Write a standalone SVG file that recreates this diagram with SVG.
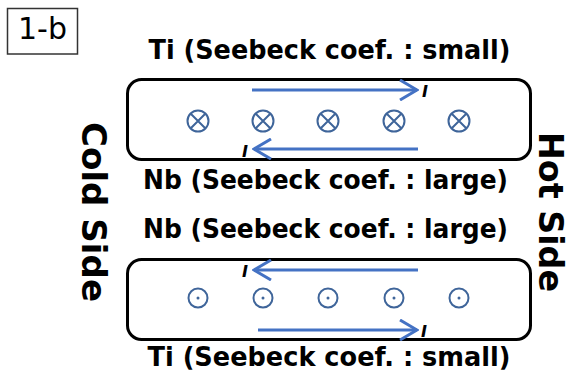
<svg xmlns="http://www.w3.org/2000/svg" width="569" height="373" viewBox="0 0 569 373">
<style>
.lbl{font-family:"DejaVu Sans","Liberation Sans",sans-serif;font-weight:bold;font-size:27px;fill:#000}
.side{font-family:"DejaVu Sans","Liberation Sans",sans-serif;font-weight:bold;font-size:34px;fill:#000}
.cur{font-family:"DejaVu Sans","Liberation Sans",sans-serif;font-weight:bold;font-style:italic;font-size:16px;fill:#000}
.box{fill:none;stroke:#000;stroke-width:3}
.arr{fill:none;stroke:#4472C4;stroke-width:3}
.sym{fill:none;stroke:#3F659A;stroke-width:2}
</style>
<defs>
<marker id="ah" viewBox="0 0 20 22" refX="18" refY="11" markerWidth="20" markerHeight="22" markerUnits="userSpaceOnUse" orient="auto">
<path d="M1,1 L18,11 L1,21" fill="none" stroke="#4472C4" stroke-width="3"/>
</marker>
</defs>
<rect fill="#fff" x="0" y="0" width="569" height="373"/>
<g id="label-1b">
<rect x="7.5" y="8.5" width="70" height="45.5" fill="none" stroke="#333" stroke-width="1.5"/>
<text x="42.5" y="38.5" text-anchor="middle" style="font-family:'DejaVu Sans','Liberation Sans',sans-serif;font-size:30px;fill:#000">1-b</text>
</g>
<g id="top-pair">
<rect class="box" x="127.5" y="79.5" width="403" height="80" rx="14"/>
<text class="lbl" x="329.5" y="59" text-anchor="middle" textLength="362" lengthAdjust="spacingAndGlyphs">Ti (Seebeck coef. : small)</text>
<text class="lbl" x="325.5" y="189" text-anchor="middle" textLength="365" lengthAdjust="spacingAndGlyphs">Nb (Seebeck coef. : large)</text>
<g class="sym">
<circle cx="198" cy="121" r="10.5"/><path d="M190.5,113.5 L205.5,128.5 M205.5,113.5 L190.5,128.5"/>
<circle cx="263" cy="121" r="10.5"/><path d="M255.5,113.5 L270.5,128.5 M270.5,113.5 L255.5,128.5"/>
<circle cx="328" cy="121" r="10.5"/><path d="M320.5,113.5 L335.5,128.5 M335.5,113.5 L320.5,128.5"/>
<circle cx="394" cy="121" r="10.5"/><path d="M386.5,113.5 L401.5,128.5 M401.5,113.5 L386.5,128.5"/>
<circle cx="459" cy="121" r="10.5"/><path d="M451.5,113.5 L466.5,128.5 M466.5,113.5 L451.5,128.5"/>
</g>
<text class="cur" x="422" y="97">I</text>
<text class="cur" x="242" y="157">I</text>
</g>
<g id="bottom-pair">
<rect class="box" x="127.5" y="259.5" width="403" height="80" rx="14"/>
<text class="lbl" x="325.5" y="238" text-anchor="middle" textLength="365" lengthAdjust="spacingAndGlyphs">Nb (Seebeck coef. : large)</text>
<text class="lbl" x="329" y="366" text-anchor="middle" textLength="363" lengthAdjust="spacingAndGlyphs">Ti (Seebeck coef. : small)</text>
<g class="sym">
<circle cx="198" cy="298" r="9.5"/><circle cx="263" cy="298" r="9.5"/><circle cx="328" cy="298" r="9.5"/><circle cx="394" cy="298" r="9.5"/><circle cx="459" cy="298" r="9.5"/>
</g>
<g fill="#3F659A">
<circle cx="198" cy="298" r="1.5"/><circle cx="263" cy="298" r="1.5"/><circle cx="328" cy="298" r="1.5"/><circle cx="394" cy="298" r="1.5"/><circle cx="459" cy="298" r="1.5"/>
</g>
<text class="cur" x="242" y="277">I</text>
<text class="cur" x="421" y="337">I</text>
</g>
<g id="cold-side">
<text class="side" transform="translate(82,212) rotate(90)" text-anchor="middle" textLength="180" lengthAdjust="spacingAndGlyphs">Cold Side</text>
</g>
<g id="hot-side">
<text class="side" style="font-size:33px" transform="translate(539,212) rotate(90)" text-anchor="middle" textLength="160" lengthAdjust="spacingAndGlyphs">Hot Side</text>
</g>
<g id="connectors">
<line class="arr" x1="252" y1="90" x2="417" y2="90" marker-end="url(#ah)"/>
<line class="arr" x1="418" y1="149" x2="254" y2="149" marker-end="url(#ah)"/>
<line class="arr" x1="418" y1="270" x2="254" y2="270" marker-end="url(#ah)"/>
<line class="arr" x1="258" y1="330" x2="417" y2="330" marker-end="url(#ah)"/>
</g>
</svg>
